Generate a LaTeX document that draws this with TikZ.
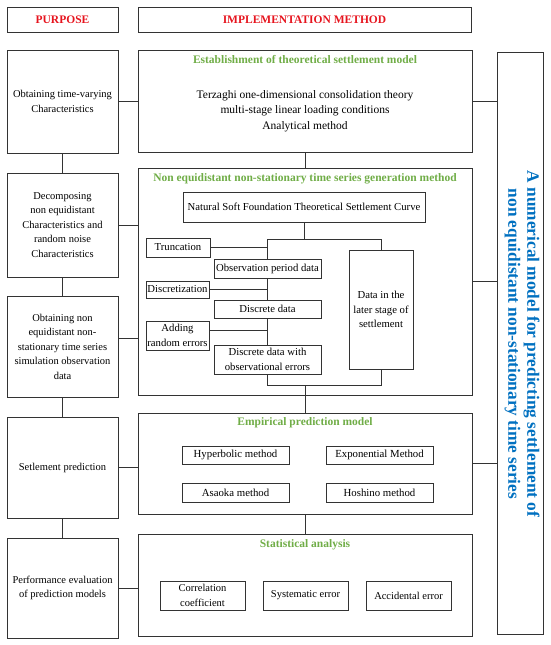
\documentclass[tikz,border=0pt]{standalone}
\usepackage{fontspec}
\setmainfont{Liberation Serif}
\usepackage{tikz}
\definecolor{headred}{RGB}{230,20,30}
\definecolor{titlegreen}{RGB}{112,173,71}
\definecolor{sideblue}{RGB}{0,112,192}

\begin{document}
\begin{tikzpicture}
[%%%%%%%%%%%%%%%%%%%%%%%%%%%%%%
x=1pt,y=-1pt,
box/.style={rectangle,draw=black!80,line width=1pt,inner sep=1pt,align=center,
  font=\fontsize{10.5}{14.5}\selectfont},
head/.style={box,minimum height=25pt,text=headred,font=\fontsize{11.5}{13}\selectfont\bfseries},
pbox/.style={box,minimum width=111pt},
mbox/.style={box,minimum width=334pt},
sbox/.style={box,font=\fontsize{10.7}{14.5}\selectfont},
ebox/.style={box,font=\fontsize{10.8}{14.5}\selectfont},
title/.style={text=titlegreen,font=\fontsize{11.5}{13}\selectfont\bfseries},
link/.style={draw=black!80,line width=1pt},
]%%%%%%%%%%%%%%%%%%%%%%%%%%%%%%
\useasboundingbox (0,0) rectangle (550,645);

\node[head,minimum width=111pt] (purpose) at (62.5,19.5){PURPOSE};
\node[head,minimum width=333pt] (method) at (304.5,19.5){IMPLEMENTATION METHOD};

\node[pbox,minimum height=103pt] (ptime) at (62.5,101.5){Obtaining time-varying\\Characteristics};
\node[pbox,minimum height=104pt] (pdecomp) at (62.5,225){Decomposing\\non equidistant\\Characteristics and\\random noise\\Characteristics};
\node[pbox,minimum height=101pt] (psim) at (62.5,346.5){Obtaining non\\equidistant non-\\stationary time series\\simulation observation\\data};
\node[pbox,minimum height=101pt] (ppred) at (62.5,467.5){Setlement prediction};
\node[pbox,minimum height=100pt] (peval) at (62.5,588){Performance evaluation\\of prediction models};

\node[mbox,minimum height=102pt] (mmodel) at (305,101){};
\node[mbox,minimum height=227pt] (mgen) at (305,281.5){};
\node[mbox,minimum height=101pt] (memp) at (305,463.5){};
\node[mbox,minimum height=102pt] (mstat) at (305,585){};

\node[title] (tmodel) at (305,60){Establishment of theoretical settlement model};
\node[title] (tgen) at (305,179){Non equidistant non-stationary time series generation method};
\node[title] (temp) at (305,423){Empirical prediction model};
\node[title] (tstat) at (305,545){Statistical analysis};

\node[align=center,font=\fontsize{11.5}{15.5}\selectfont] (terz) at (305,111){Terzaghi one-dimensional consolidation theory\\multi-stage linear loading conditions\\Analytical method};

\node[box,minimum width=46pt,minimum height=582pt] (side) at (520,343){};
\node[rotate=-90,align=center,text=sideblue,font=\fontsize{17.3}{19}\selectfont\bfseries] (sidetext) at (522,344){A numerical model for predicting settlement of\\non equidistant non-stationary time series};

\node[sbox,minimum width=242pt,minimum height=30pt] (nat) at (304,207){Natural Soft Foundation Theoretical Settlement Curve};
\node[sbox,minimum width=64pt,minimum height=19pt] (trunc) at (178,247.5){Truncation};
\node[sbox,minimum width=107pt,minimum height=19pt] (obsp) at (267.5,268.5){Observation period data};
\node[sbox,minimum width=63pt,minimum height=17pt] (discz) at (177.5,289.5){Discretization};
\node[sbox,minimum width=107pt,minimum height=18pt] (disc) at (267.5,309){Discrete data};
\node[sbox,minimum width=63pt,minimum height=29pt] (adderr) at (177.5,335.5){Adding\\random errors};
\node[sbox,minimum width=107pt,minimum height=29pt] (discerr) at (267.5,359.5){Discrete data with\\observational errors};
\node[sbox,minimum width=64pt,minimum height=119pt] (later) at (381,309.5){Data in the\\later stage of\\settlement};
\coordinate (split) at (304,239);
\coordinate (join) at (305,385);

\node[ebox,minimum width=107pt,minimum height=18pt] (hyp) at (235.5,455){Hyperbolic method};
\node[ebox,minimum width=107pt,minimum height=18pt] (expo) at (379.5,455){Exponential Method};
\node[ebox,minimum width=107pt,minimum height=19pt] (asa) at (235.5,492.5){Asaoka method};
\node[ebox,minimum width=107pt,minimum height=19pt] (hosh) at (379.5,492.5){Hoshino method};

\node[box,minimum width=85pt,minimum height=29pt] (corr) at (202.5,595.5){Correlation\\coefficient};
\node[box,minimum width=85pt,minimum height=29pt] (sys) at (305.5,595.5){Systematic error};
\node[box,minimum width=85pt,minimum height=29pt] (acc) at (408.5,595.5){Accidental error};

\draw[link] (ptime.south) -- (pdecomp.north);
\draw[link] (pdecomp.south) -- (psim.north);
\draw[link] (psim.south) -- (ppred.north);
\draw[link] (ppred.south) -- (peval.north);

\draw[link] (ptime.east) -- (ptime.east -| mmodel.west);
\draw[link] (pdecomp.east) -- (pdecomp.east -| mgen.west);
\draw[link] ([yshift=8pt]psim.east) -- ([yshift=8pt]psim.east -| mgen.west);
\draw[link] (ppred.east) -- (ppred.east -| memp.west);
\draw[link] (peval.east) -- (peval.east -| mstat.west);

\draw[link] (mmodel.east) -- (mmodel.east -| side.west);
\draw[link] (mgen.east) -- (mgen.east -| side.west);
\draw[link] (memp.east) -- (memp.east -| side.west);

\draw[link] (mmodel.south) -- (mgen.north);
\draw[link] (memp.south) -- (mstat.north);

\draw[link] (nat.south) -- (split);
\draw[link] (obsp.north) -- (obsp.north |- split) -- (later.north |- split) -- (later.north);
\draw[link] (obsp.south) -- (disc.north);
\draw[link] (disc.south) -- (discerr.north);
\draw[link] (trunc.east) -- (trunc.east -| obsp.north);
\draw[link] (discz.east) -- (discz.east -| obsp.south);
\draw[link] ([yshift=5pt]adderr.east) -- ([yshift=5pt]adderr.east -| disc.south);
\draw[link] (discerr.south) -- (discerr.south |- join) -- (later.south |- join) -- (later.south);
\draw[link] (join) -- (join |- memp.north);
\end{tikzpicture}
\end{document}
